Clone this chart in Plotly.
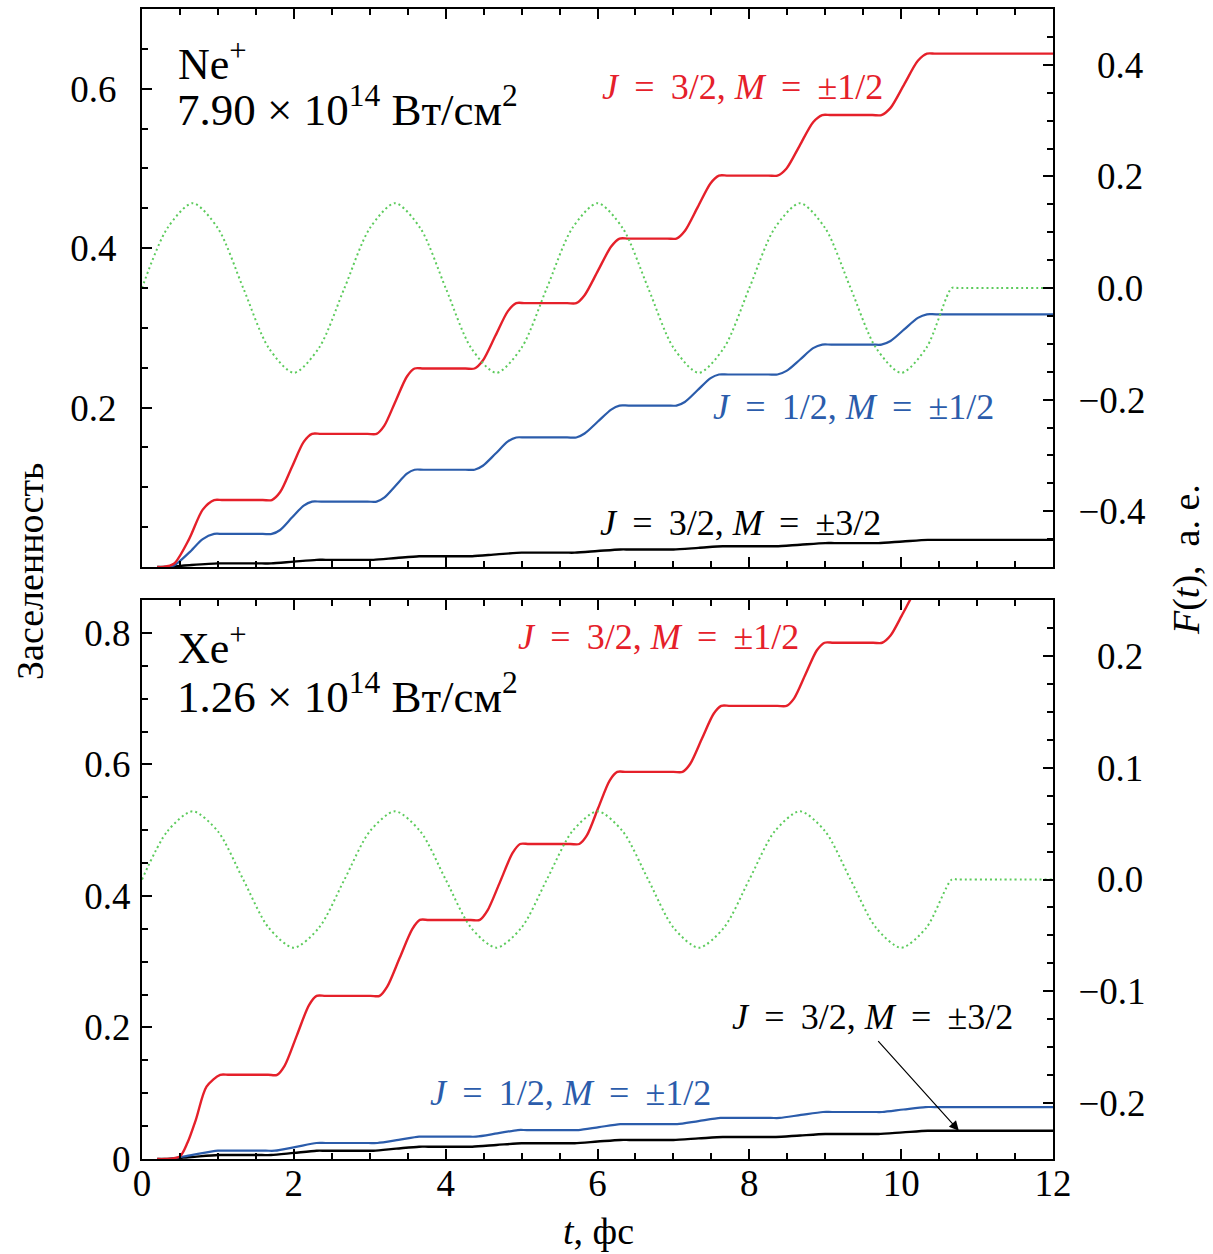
import plotly.graph_objects as go

# ---------------- data ----------------
# Field F(t), a.u. (dotted green)
t_field = [0.0, 0.333, 0.667, 1.0, 1.333, 1.667, 2.0, 2.333, 2.667, 3.0, 3.333,
           3.667, 4.0, 4.333, 4.667, 5.0, 5.333, 5.667, 6.0, 6.333, 6.667, 7.0,
           7.333, 7.667, 8.0, 8.333, 8.667, 9.0, 9.333, 9.667, 10.0, 10.333,
           10.667, 10.75, 11.3, 12.0]
ne_field = [0.0, 0.107, 0.152, 0.107, 0.0, -0.107, -0.152, -0.107,
            0.0, 0.107, 0.152, 0.107, 0.0, -0.107, -0.152, -0.107,
            0.0, 0.107, 0.152, 0.107, 0.0, -0.107, -0.152, -0.107,
            0.0, 0.107, 0.152, 0.107, 0.0, -0.107, -0.152, -0.107,
            0.0, 0.0, 0.0, 0.0]
xe_field = [0.0, 0.043, 0.061, 0.043, 0.0, -0.043, -0.061, -0.043,
            0.0, 0.043, 0.061, 0.043, 0.0, -0.043, -0.061, -0.043,
            0.0, 0.043, 0.061, 0.043, 0.0, -0.043, -0.061, -0.043,
            0.0, 0.043, 0.061, 0.043, 0.0, -0.043, -0.061, -0.043,
            0.0, 0.0, 0.0, 0.0]

# Ne+ : J=3/2, M=±1/2 (red) -- (t, population)
ne_red = [(0.2, 0.0), (0.28, 0.0), (0.42, 0.004), (0.62, 0.035), (0.80, 0.072),
          (0.95, 0.084), (1.07, 0.084),
          (1.59, 0.084), (1.71, 0.084), (1.82, 0.094), (1.975, 0.1255),
          (2.13, 0.157), (2.24, 0.167), (2.36, 0.167),
          (2.97, 0.167), (3.09, 0.167), (3.19, 0.177), (3.34, 0.208),
          (3.49, 0.239), (3.59, 0.249), (3.71, 0.249),
          (4.26, 0.249), (4.38, 0.249), (4.49, 0.259), (4.655, 0.290),
          (4.82, 0.321), (4.93, 0.331), (5.05, 0.331),
          (5.60, 0.331), (5.72, 0.331), (5.83, 0.341), (6.005, 0.3715),
          (6.18, 0.402), (6.29, 0.412), (6.41, 0.412),
          (6.92, 0.412), (7.04, 0.412), (7.15, 0.4215), (7.32, 0.4515),
          (7.49, 0.4815), (7.60, 0.491), (7.72, 0.491),
          (8.25, 0.491), (8.37, 0.491), (8.49, 0.500), (8.665, 0.529),
          (8.84, 0.558), (8.96, 0.567), (9.08, 0.567),
          (9.62, 0.567), (9.74, 0.567), (9.86, 0.576), (10.04, 0.6055),
          (10.22, 0.635), (10.34, 0.644), (10.46, 0.644), (12.0, 0.644)]

# Ne+ : J=1/2, M=±1/2 (blue)
ne_blue = [(0.2, 0.0), (0.28, 0.0), (0.42, 0.002), (0.62, 0.018), (0.80, 0.035),
           (0.95, 0.0415), (1.07, 0.0415),
           (1.59, 0.0415), (1.71, 0.0415), (1.82, 0.0464), (1.975, 0.062),
           (2.13, 0.077), (2.24, 0.082), (2.36, 0.082),
           (2.97, 0.082), (3.09, 0.082), (3.19, 0.087), (3.34, 0.102),
           (3.49, 0.117), (3.59, 0.122), (3.71, 0.122),
           (4.26, 0.122), (4.38, 0.122), (4.49, 0.127), (4.655, 0.142),
           (4.82, 0.1575), (4.93, 0.1625), (5.05, 0.1625),
           (5.60, 0.1625), (5.72, 0.1625), (5.83, 0.1675), (6.005, 0.1825),
           (6.18, 0.1975), (6.29, 0.2025), (6.41, 0.2025),
           (6.92, 0.2025), (7.04, 0.2025), (7.15, 0.207), (7.32, 0.222),
           (7.49, 0.237), (7.60, 0.2415), (7.72, 0.2415),
           (8.25, 0.2415), (8.37, 0.2415), (8.49, 0.246), (8.665, 0.260),
           (8.84, 0.2745), (8.96, 0.279), (9.08, 0.279),
           (9.62, 0.279), (9.74, 0.279), (9.86, 0.2835), (10.04, 0.298),
           (10.22, 0.3125), (10.34, 0.317), (10.46, 0.317), (12.0, 0.317)]

# Ne+ : J=3/2, M=±3/2 (black)
ne_black = [(0.2, 0.0), (0.3, 0.0), (0.65, 0.0025), (1.0, 0.0045), (1.12, 0.0045),
            (1.58, 0.0045), (1.7, 0.0045), (2.0, 0.0068), (2.3, 0.009), (2.42, 0.009),
            (2.93, 0.009), (3.05, 0.009), (3.35, 0.0113), (3.65, 0.0135), (3.77, 0.0135),
            (4.23, 0.0135), (4.35, 0.0135), (4.67, 0.0158), (5.0, 0.018), (5.12, 0.018),
            (5.58, 0.018), (5.7, 0.018), (6.0, 0.020), (6.3, 0.022), (6.42, 0.022),
            (6.88, 0.022), (7.0, 0.022), (7.33, 0.024), (7.65, 0.026), (7.77, 0.026),
            (8.23, 0.026), (8.35, 0.026), (8.67, 0.028), (9.0, 0.030), (9.12, 0.030),
            (9.58, 0.030), (9.7, 0.030), (10.02, 0.032), (10.35, 0.034), (10.47, 0.034),
            (12.0, 0.034)]

# Xe+ : J=3/2, M=±1/2 (red)
xe_red = [(0.2, 0.0), (0.3, 0.0), (0.5, 0.004), (0.6, 0.025), (0.71, 0.060),
          (0.85, 0.110), (1.03, 0.128), (1.15, 0.128),
          (1.66, 0.128), (1.78, 0.128), (1.88, 0.142), (2.04, 0.188),
          (2.20, 0.234), (2.30, 0.248), (2.42, 0.248),
          (3.01, 0.248), (3.13, 0.248), (3.23, 0.262), (3.395, 0.306),
          (3.56, 0.3495), (3.66, 0.3635), (3.78, 0.3635),
          (4.33, 0.3635), (4.45, 0.3635), (4.55, 0.3775), (4.715, 0.421),
          (4.88, 0.465), (4.98, 0.479), (5.10, 0.479),
          (5.64, 0.479), (5.76, 0.479), (5.86, 0.492), (6.01, 0.534),
          (6.16, 0.5755), (6.26, 0.5886), (6.38, 0.5886),
          (7.00, 0.5886), (7.12, 0.5886), (7.22, 0.6006), (7.375, 0.639),
          (7.53, 0.677), (7.63, 0.689), (7.75, 0.689),
          (8.37, 0.689), (8.49, 0.689), (8.59, 0.7005), (8.74, 0.737),
          (8.89, 0.7735), (8.99, 0.785), (9.11, 0.785),
          (9.63, 0.785), (9.75, 0.785), (9.86, 0.796), (10.025, 0.830),
          (10.19, 0.864), (10.30, 0.875), (10.42, 0.875), (12.0, 0.875)]

# Xe+ : J=1/2, M=±1/2 (blue)
xe_blue = [(0.2, 0.0), (0.35, 0.0), (0.65, 0.006), (1.0, 0.0126), (1.12, 0.0126),
           (1.63, 0.0126), (1.75, 0.0126), (2.03, 0.0185), (2.3, 0.0243), (2.42, 0.0243),
           (2.98, 0.0243), (3.1, 0.0243), (3.38, 0.029), (3.65, 0.034), (3.77, 0.034),
           (4.28, 0.034), (4.4, 0.034), (4.68, 0.039), (4.95, 0.044), (5.07, 0.044),
           (5.63, 0.044), (5.75, 0.044), (6.02, 0.0485), (6.3, 0.053), (6.42, 0.053),
           (6.93, 0.053), (7.05, 0.053), (7.33, 0.0577), (7.62, 0.0624), (7.74, 0.0624),
           (8.28, 0.0624), (8.4, 0.0624), (8.68, 0.067), (8.97, 0.0715), (9.09, 0.0715),
           (9.63, 0.0715), (9.75, 0.0715), (10.03, 0.0753), (10.32, 0.079), (10.44, 0.079),
           (12.0, 0.079)]

# Xe+ : J=3/2, M=±3/2 (black)
xe_black = [(0.2, 0.0), (0.3, 0.0), (0.65, 0.003), (1.0, 0.006), (1.12, 0.006),
            (1.58, 0.006), (1.7, 0.006), (2.0, 0.0093), (2.3, 0.0126), (2.42, 0.0126),
            (2.93, 0.0126), (3.05, 0.0126), (3.35, 0.0157), (3.65, 0.0187), (3.77, 0.0187),
            (4.23, 0.0187), (4.35, 0.0187), (4.67, 0.0213), (5.0, 0.024), (5.12, 0.024),
            (5.58, 0.024), (5.7, 0.024), (6.0, 0.0265), (6.3, 0.029), (6.42, 0.029),
            (6.88, 0.029), (7.0, 0.029), (7.33, 0.0313), (7.65, 0.0335), (7.77, 0.0335),
            (8.23, 0.0335), (8.35, 0.0335), (8.67, 0.0358), (9.0, 0.038), (9.12, 0.038),
            (9.58, 0.038), (9.7, 0.038), (10.02, 0.0405), (10.35, 0.043), (10.47, 0.043),
            (12.0, 0.043)]

top_left_ticks = [0.2, 0.4, 0.6]
top_right_ticks = [-0.4, -0.2, 0.0, 0.2, 0.4]
top_right_text = ["\u22120.4", "\u22120.2", "\u20070.0", "\u20070.2", "\u20070.4"]
bot_left_ticks = [0, 0.2, 0.4, 0.6, 0.8]
bot_right_ticks = [-0.2, -0.1, 0.0, 0.1, 0.2]
bot_right_text = ["\u22120.2", "\u22120.1", "\u20070.0", "\u20070.1", "\u20070.2"]
x_ticks = [0, 2, 4, 6, 8, 10, 12]

# ---------------- styling ----------------
RED = "#e5202a"
BLUE = "#2b5cab"
BLACK = "#000000"
GREEN = "#5ccb5c"
FONT = "Liberation Serif"

W, H = 1213, 1254
L, R, T, B = 142, 1053, 9, 1159


def pp(px, py):
    return (px - L) / (R - L), (B - py) / (B - T)


fig = go.Figure()


def line(x, y, color, xa, ya, width=2.4, dash=None):
    fig.add_trace(go.Scatter(
        x=x, y=y, mode="lines", xaxis=xa, yaxis=ya, showlegend=False,
        line=dict(color=color, width=width, shape="spline", smoothing=0.8,
                  dash=dash), hoverinfo="skip"))


def curve(pairs, color, xa, ya, width):
    line([p[0] for p in pairs], [p[1] for p in pairs], color, xa, ya, width)


# top panel (Ne+)
line(t_field, ne_field, GREEN, "x2", "y4", width=2, dash="2px,3px")
curve(ne_black, BLACK, "x2", "y3", 2.4)
curve(ne_blue, BLUE, "x2", "y3", 2.2)
curve(ne_red, RED, "x2", "y3", 2.4)
# bottom panel (Xe+)
line(t_field, xe_field, GREEN, "x", "y2", width=2, dash="2px,3px")
curve(xe_black, BLACK, "x", "y", 2.4)
curve(xe_blue, BLUE, "x", "y", 2.2)
curve(xe_red, RED, "x", "y", 2.4)

tickfont = dict(family=FONT, size=37, color="black")
common = dict(showline=True, linecolor="black", linewidth=2, ticks="inside",
              ticklen=10, tickwidth=2, tickcolor="black", showgrid=False,
              zeroline=False, tickfont=tickfont)
ydom_top = [(B - 567) / (B - T), 1.0]
ydom_bot = [0.0, (B - 600) / (B - T)]


def minor(d):
    return dict(dtick=d, tick0=0, ticklen=6, tickwidth=1.5, ticks="inside",
                tickcolor="black", showgrid=False)


fig.update_layout(
    width=W, height=H,
    margin=dict(l=L, r=W - R, t=T, b=H - B, pad=0, autoexpand=False),
    paper_bgcolor="white", plot_bgcolor="white",
    xaxis=dict(anchor="y", domain=[0, 1], range=[0, 12], tickvals=x_ticks,
               mirror="ticks", ticklabelstandoff=-9, minor=minor(0.5),
               **common),
    xaxis2=dict(anchor="y3", domain=[0, 1], range=[0, 12], tickvals=x_ticks,
                matches="x", mirror="ticks", showticklabels=False,
                minor=minor(0.5), **common),
    yaxis=dict(anchor="x", domain=ydom_bot, range=[0, 0.85],
               tickvals=bot_left_ticks, ticklabelstandoff=2,
               minor=minor(0.05), **common),
    yaxis2=dict(anchor="x", overlaying="y", side="right", range=[-0.25, 0.25],
                tickvals=bot_right_ticks, ticktext=bot_right_text,
                ticklabelstandoff=16, minor=minor(0.025), **common),
    yaxis3=dict(anchor="x2", domain=ydom_top, range=[0, 0.70],
                tickvals=top_left_ticks, ticklabelstandoff=16,
                minor=minor(0.05), **common),
    yaxis4=dict(anchor="x2", overlaying="y3", side="right", range=[-0.5, 0.5],
                tickvals=top_right_ticks, ticktext=top_right_text,
                ticklabelstandoff=16, minor=minor(0.05), **common),
)

S = "\u2005\u2009"


def label(txt, px, py, color="black", size=36, xanchor="left", angle=0):
    x, y = pp(px, py)
    fig.add_annotation(text=txt, x=x, y=y, xref="paper", yref="paper",
                       xanchor=xanchor, yanchor="middle", showarrow=False,
                       textangle=angle,
                       font=dict(family=FONT, size=size, color=color))


j32_12 = f"<i>J</i>{S}={S}3/2, <i>M</i>{S}={S}±1/2"
j12_12 = f"<i>J</i>{S}={S}1/2, <i>M</i>{S}={S}±1/2"
j32_32 = f"<i>J</i>{S}={S}3/2, <i>M</i>{S}={S}±3/2"

label("Ne<sup>+</sup>", 176, 62, size=44)
label("7.90 × 10<sup>14</sup> Вт/см<sup>2</sup>", 175, 106, size=45)
label(j32_12, 600, 87, RED)
label(j12_12, 711, 407, BLUE)
label(j32_32, 598, 523, BLACK)

label("Xe<sup>+</sup>", 176, 645, size=44)
label("1.26 × 10<sup>14</sup> Вт/см<sup>2</sup>", 175, 693, size=45)
label(j32_12, 516, 637, RED)
label(j12_12, 428, 1093, BLUE)
label(j32_32, 730, 1017, BLACK)

fig.add_annotation(x=10.76, y=0.043, xref="x", yref="y", text="",
                   showarrow=True, ax=-82, ay=-91, arrowhead=2, arrowsize=1.6,
                   arrowwidth=1.2, arrowcolor="black", standoff=0)

label("Заселенность", 30, 572, size=38, xanchor="center", angle=-90)
label("<i>F</i>(<i>t</i>),  а. е.", 1186, 560, size=38, xanchor="center",
      angle=-90)
label("<i>t</i>, фс", 598, 1231, size=38, xanchor="center")

fig.write_html("out.html")
